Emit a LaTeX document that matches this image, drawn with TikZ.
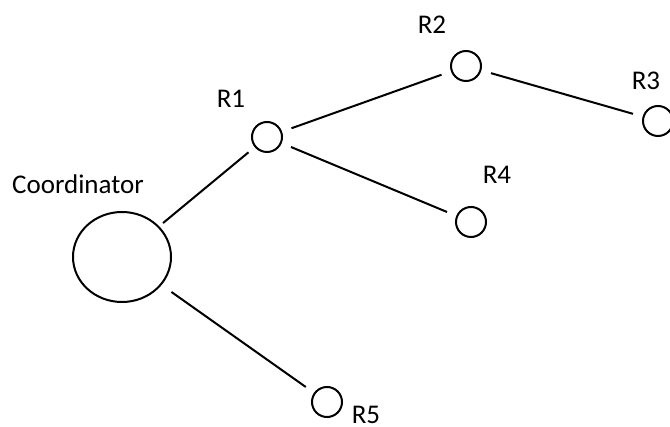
\documentclass[tikz,border=0pt]{standalone}
\usepackage{fontspec}
\setmainfont{Carlito}
\usetikzlibrary{shapes.geometric}
\begin{document}
\begin{tikzpicture}
[
    x=1pt, y=-1pt,
    router/.style={shape=circle, draw, line width=2pt, minimum size=30pt, inner sep=0pt},
    coord/.style={shape=ellipse, draw, line width=2pt, minimum width=98pt, minimum height=90pt, inner sep=0pt},
    tag/.style={font=\fontsize{27}{32}\selectfont, inner sep=0pt},
    link/.style={line width=2pt, shorten <=10pt, shorten >=10pt},
]
\useasboundingbox (0,0) rectangle (670,427);
% nodes
\node[coord] (C) at (122,257) {};
\node[router] (R1) at (267,137) {};
\node[router] (R2) at (466,66) {};
\node[router] (R3) at (658,121) {};
\node[router] (R4) at (471,222) {};
\node[router] (R5) at (327,402) {};
% labels
\node[tag] (lC) at (78,184) {Coordinator};
\node[tag] (l1) at (231,99) {R1};
\node[tag] (l2) at (432,25) {R2};
\node[tag] (l3) at (646,81) {R3};
\node[tag] (l4) at (497,175) {R4};
\node[tag] (l5) at (366,415) {R5};
% links
\draw[link] (R1) -- (R2);
\draw[link] (R2) -- (R3);
\draw[link] (R1) -- (R4);
\draw[link, shorten <=8pt, shorten >=5pt] (R1) -- (C);
\draw[link, shorten <=12pt] (C) -- (R5);
\end{tikzpicture}
\end{document}
